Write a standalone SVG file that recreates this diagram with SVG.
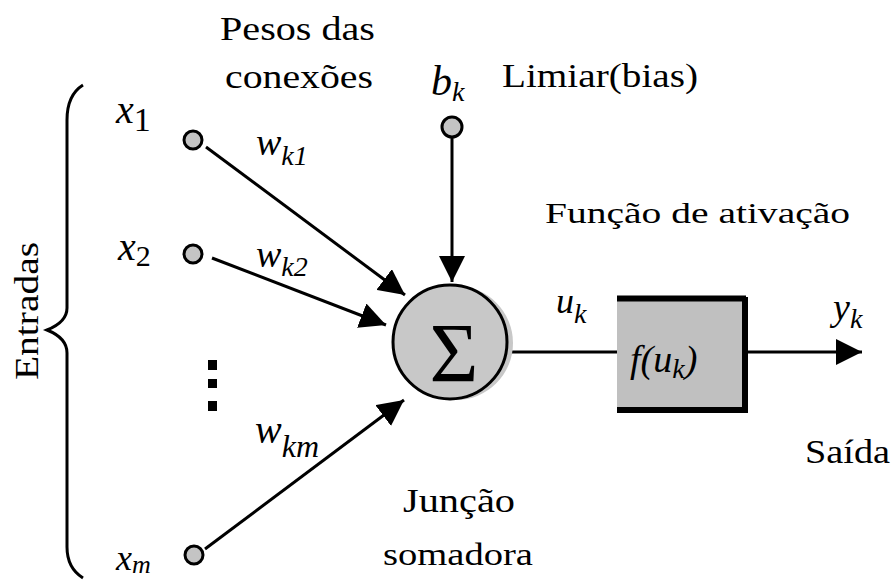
<svg xmlns="http://www.w3.org/2000/svg" width="896" height="583" viewBox="0 0 896 583">
<style>
text{font-family:'Liberation Serif','DejaVu Serif',serif;fill:#000;}
.m{font-style:italic;}
.ln{stroke:#000;stroke-width:3;fill:none;}
.node{fill:#c4c4c4;stroke:#000;stroke-width:3;}
</style>
<defs>
<marker id="ah" viewBox="0 0 26 26" refX="26" refY="13" markerWidth="26" markerHeight="26" markerUnits="userSpaceOnUse" orient="auto">
<path d="M0,0 L26,13 L0,26 z" fill="#000"/>
</marker>
</defs>
<rect width="896" height="583" fill="#fff"/>

<g id="brace">
<path d="M83,85 Q67,95 67,120 L67,308 Q67,322 47,330 Q67,338 67,353 L67,547 Q67,568 83,578" class="ln"/>
<text transform="translate(38,380) rotate(-90)" font-size="34" textLength="138" lengthAdjust="spacingAndGlyphs">Entradas</text>
</g>

<g id="labels">
<text x="220" y="40" font-size="34" textLength="155" lengthAdjust="spacingAndGlyphs">Pesos das</text>
<text x="225" y="88" font-size="34" textLength="148" lengthAdjust="spacingAndGlyphs">conexões</text>
<text x="502" y="87" font-size="34" textLength="196" lengthAdjust="spacingAndGlyphs">Limiar(bias)</text>
<text x="545" y="223" font-size="30" textLength="305" lengthAdjust="spacingAndGlyphs">Função de ativação</text>
<text x="805" y="463" font-size="34" textLength="85" lengthAdjust="spacingAndGlyphs">Saída</text>
<text x="403" y="512" font-size="34" textLength="112" lengthAdjust="spacingAndGlyphs">Junção</text>
<text x="383" y="565" font-size="32" textLength="150" lengthAdjust="spacingAndGlyphs">somadora</text>
</g>

<g id="inputs">
<g id="x1">
<text class="m" x="116" y="123" font-size="40">x<tspan font-style="normal" font-size="34" dy="8">1</tspan></text>
<circle class="node" cx="193" cy="140" r="9"/>
</g>
<g id="x2">
<text class="m" x="118" y="260" font-size="40">x<tspan font-style="normal" font-size="30" dy="6">2</tspan></text>
<circle class="node" cx="193" cy="254" r="9"/>
</g>
<g id="xm">
<text class="m" x="116" y="570" font-size="36">x<tspan font-size="26" dy="3">m</tspan></text>
<circle class="node" cx="194" cy="555" r="9"/>
</g>
<g id="ellipsis">
<rect x="208" y="360" width="9" height="10" fill="#000"/>
<rect x="208" y="379" width="9" height="9" fill="#000"/>
<rect x="208" y="401" width="9" height="10" fill="#000"/>
</g>
<g id="bias">
<text class="m" x="431" y="95" font-size="42">b<tspan font-size="28" dy="6">k</tspan></text>
<circle class="node" cx="452" cy="127" r="10"/>
</g>
</g>

<g id="connectors">
<line class="ln" x1="206" y1="147" x2="405" y2="295" marker-end="url(#ah)"/>
<line class="ln" x1="212" y1="258" x2="386" y2="325" marker-end="url(#ah)"/>
<line class="ln" x1="205" y1="549" x2="404" y2="400" marker-end="url(#ah)"/>
<line class="ln" x1="452" y1="138" x2="452" y2="282" marker-end="url(#ah)"/>
<line class="ln" x1="508" y1="352" x2="617" y2="352"/>
<line class="ln" x1="748" y1="352" x2="862" y2="352" marker-end="url(#ah)"/>
</g>

<g id="weights">
<text class="m" x="256" y="155" font-size="38">w<tspan font-size="28" dy="10">k1</tspan></text>
<text class="m" x="256" y="267" font-size="38">w<tspan font-size="28" dy="9">k2</tspan></text>
<text class="m" x="255" y="443" font-size="40">w<tspan font-size="32" dy="14">km</tspan></text>
</g>

<g id="sum">
<circle cx="456" cy="343" r="57" fill="#c8c8c8"/>
<circle cx="450" cy="342" r="57" fill="#c8c8c8" stroke="#000" stroke-width="3"/>
<text x="454" y="382" font-size="84" text-anchor="middle">Σ</text>
</g>

<g id="activation">
<rect x="617" y="297" width="131" height="116" fill="#c0c0c0"/>
<path d="M617,298.5 L746,298.5 M745,297 L745,413 M617,410 L748,410" stroke="#000" stroke-width="6" fill="none"/>
<text class="m" x="630" y="372" font-size="38">f(u<tspan font-size="28" dy="6">k</tspan><tspan font-size="38" dy="-6">)</tspan></text>
<text class="m" x="556" y="313" font-size="36">u<tspan font-size="28" dy="10">k</tspan></text>
<text class="m" x="833" y="320" font-size="38">y<tspan font-size="28" dy="8">k</tspan></text>
</g>
</svg>
